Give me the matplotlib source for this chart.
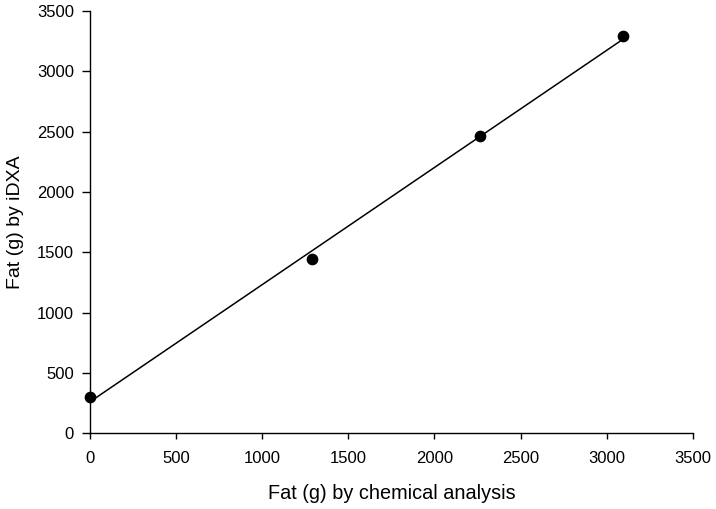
import matplotlib
matplotlib.use("Agg")
import matplotlib.pyplot as plt
import numpy as np

plt.rcParams['font.family'] = ['Liberation Sans', 'DejaVu Sans']

chem_fat = [0, 1290, 2264, 3092]
idxa_fat = [301, 1443, 2463, 3293]
x_ticks = [0, 500, 1000, 1500, 2000, 2500, 3000, 3500]
y_ticks = [0, 500, 1000, 1500, 2000, 2500, 3000, 3500]

fig = plt.figure(figsize=(7.16, 5.09), dpi=100)
ax = fig.add_axes([0.1257, 0.149, 0.842, 0.829])

slope, intercept = np.polyfit(chem_fat, idxa_fat, 1)
xl = np.array([min(chem_fat), max(chem_fat)])
ax.plot(xl, slope * xl + intercept, color='black', lw=1.1, zorder=2)
ax.scatter(chem_fat, idxa_fat, s=55, color='black', zorder=3, clip_on=False)

ax.set_xlim(0, 3500)
ax.set_ylim(0, 3500)
ax.set_xticks(x_ticks)
ax.set_yticks(y_ticks)
ax.tick_params(labelsize=12, width=1, direction='out')
ax.tick_params(axis='x', length=4.5, pad=8)
ax.tick_params(axis='y', length=6, pad=5.5)
for s in ['top', 'right']:
    ax.spines[s].set_visible(False)
for s in ['left', 'bottom']:
    ax.spines[s].set_linewidth(1)

ax.set_xlabel('Fat (g) by chemical analysis', fontsize=14.3)
ax.set_ylabel('Fat (g) by iDXA', fontsize=14)
ax.xaxis.set_label_coords(0.5, -0.12)
ax.yaxis.set_label_coords(-0.11, 0.5)

fig.savefig('out.png', dpi=100)
